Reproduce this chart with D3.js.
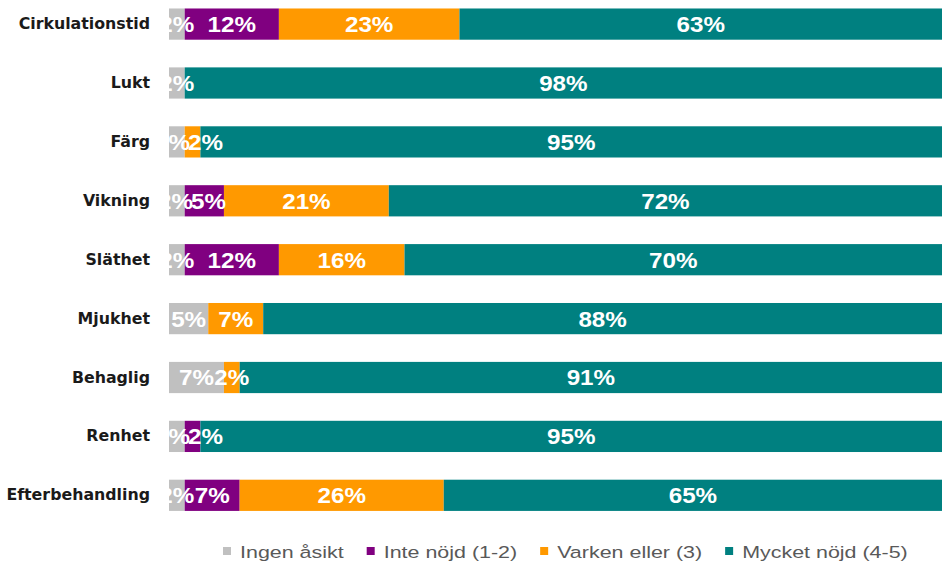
<!DOCTYPE html>
<html>
<head>
<meta charset="utf-8">
<script src="https://cdn.jsdelivr.net/npm/d3@7"></script>
<style>
  body { margin: 0; background: #fff; }
  svg { display: block; }
</style>
</head>
<body>
<div id="chart"></div>
<script>
var categories = ["Cirkulationstid", "Lukt", "Färg", "Vikning", "Släthet",
  "Mjukhet", "Behaglig", "Renhet", "Efterbehandling"];

var seriesNames = ["Ingen åsikt", "Inte nöjd (1-2)", "Varken eller (3)", "Mycket nöjd (4-5)"];

// percent per category, same order as categories
var ingenAsikt = [2, 2, 2, 2, 2, 5, 7, 2, 2];
var inteNojd = [12, 0, 0, 5, 12, 0, 0, 2, 7];
var varkenEller = [23, 0, 2, 21, 16, 7, 2, 0, 26];
var mycketNojd = [63, 98, 95, 72, 70, 88, 91, 95, 65];

var colors = ["#c0c0c0", "#800080", "#ff9900", "#008080"];

var width = 942,
  height = 563;

var rows = categories.map(function(c, i) {
  return {
    name: c,
    "Ingen åsikt": ingenAsikt[i],
    "Inte nöjd (1-2)": inteNojd[i],
    "Varken eller (3)": varkenEller[i],
    "Mycket nöjd (4-5)": mycketNojd[i]
  };
});

var stack = d3.stack().keys(seriesNames);
var series = stack(rows);

// plot runs past the right edge of the picture
var x = d3.scaleLinear()
  .domain([0, 100])
  .range([169, 954]);

var y = d3.scaleBand()
  .domain(categories)
  .range([-19.2, 538.6])
  .padding(0.47);

var svg = d3.select("#chart").append("svg")
  .attr("width", width)
  .attr("height", height);

var plot = svg.append("g");

plot.selectAll("g.series")
  .data(series)
  .enter().append("g")
  .attr("class", "series")
  .attr("fill", function(d, i) { return colors[i]; })
  .selectAll("rect")
  .data(function(d) { return d.filter(function(p) { return p[1] - p[0] > 0; }); })
  .enter().append("rect")
  .attr("x", function(d) { return x(d[0]); })
  .attr("y", function(d) { return y(d.data.name); })
  .attr("width", function(d) { return x(d[1]) - x(d[0]); })
  .attr("height", y.bandwidth());

// label data, row by row, in series order
var labelData = [];
categories.forEach(function(c, ri) {
  series.forEach(function(s) {
    var p = s[ri];
    if (p[1] - p[0] <= 0) return;
    labelData.push({
      row: c,
      cx: (x(p[0]) + Math.min(x(p[1]), width)) / 2,
      cy: y(c) + y.bandwidth() / 2,
      text: Math.round(p[1] - p[0]) + "%"
    });
  });
});

var labelStretch = 1.1;
var labels = svg.append("g")
  .attr("font-family", "'Liberation Sans', Arial, sans-serif")
  .attr("font-weight", "bold")
  .attr("font-size", "22px")
  .attr("fill", "#fff")
  .attr("text-anchor", "middle")
  .selectAll("text")
  .data(labelData)
  .enter().append("text")
  .attr("dy", "0.36em")
  .text(function(d) { return d.text; })
  .each(function(d) { d.w = this.getComputedTextLength() * labelStretch; });

// push crowded neighbours apart a little
categories.forEach(function(c) {
  var list = labelData.filter(function(d) { return d.row == c; });
  for (var i = 1; i < list.length; i++) {
    var a = list[i - 1], b = list[i];
    var need = (a.w + b.w) / 2 - 2;
    var gap = b.cx - a.cx;
    if (gap < need) {
      a.cx -= (need - gap) * 0.25;
      b.cx += (need - gap) * 0.75;
    }
  }
});

labels.attr("transform", function(d) {
  return "translate(" + d.cx + "," + d.cy + ") scale(" + labelStretch + ",1)";
});

// category axis
var yAxis = svg.append("g")
  .attr("transform", "translate(158,0)")
  .call(d3.axisLeft(y).tickSize(0).tickPadding(8));
yAxis.select(".domain").remove();
yAxis.selectAll("text")
  .attr("font-family", "Verdana, 'DejaVu Sans', sans-serif")
  .attr("font-weight", "bold")
  .attr("font-size", "15.8px")
  .attr("fill", "#1a1a1a");

// legend
var legend = svg.append("g")
  .attr("font-family", "'Liberation Sans', Arial, sans-serif")
  .attr("font-size", "16.5px")
  .attr("fill", "#595959");

var stretch = 1.3;
var lx = 223;
seriesNames.forEach(function(name, i) {
  var item = legend.append("g").attr("transform", "translate(" + lx + ",0)");
  item.append("rect")
    .attr("x", 0)
    .attr("y", 547)
    .attr("width", 8)
    .attr("height", 8)
    .attr("fill", colors[i]);
  var t = item.append("text")
    .attr("transform", "translate(17,558) scale(" + stretch + ",1)")
    .text(name);
  lx += 17 + t.node().getComputedTextLength() * stretch + 23;
});
</script>
</body>
</html>
